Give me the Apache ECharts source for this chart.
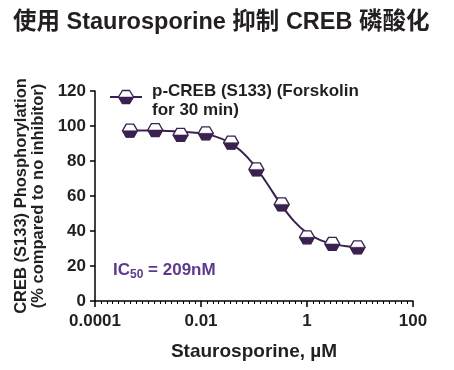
<!DOCTYPE html>
<html>
<head>
<meta charset="utf-8">
<script src="https://cdn.jsdelivr.net/npm/echarts@6/dist/echarts.min.js"></script>
<style>
html,body{margin:0;padding:0;background:#fff;}
#chart{width:454px;height:370px;}
</style>
</head>
<body>
<div id="chart"></div>
<script>
// ---- data ----
const concentrations = [0.000457, 0.00137, 0.00412, 0.0123, 0.037, 0.111, 0.333, 1, 3, 9]; // µM
const phospho = [97.3, 97.7, 94.9, 95.8, 90.5, 75.2, 55.2, 36.4, 32.6, 30.7];
// fitted curve (log10 µM, %)
const curveLogX = [-3.34, -3.0, -2.5, -2.0, -1.75, -1.5, -1.25, -1.0, -0.75, -0.5, -0.25, 0.0, 0.25, 0.5, 0.75, 0.957];
const curveY    = [97.4, 97.4, 97.0, 95.8, 94.2, 91.1, 85.9, 77.8, 67.0, 55.5, 45.8, 38.9, 34.8, 32.5, 31.3, 30.7];
const xTickValues = [-4, -2, 0, 2];
const xTickLabels = ['0.0001', '0.01', '1', '100'];
const yTicks = [0, 20, 40, 60, 80, 100, 120];

const titleText = '使用 Staurosporine 抑制 CREB 磷酸化';
const seriesName = 'p-CREB (S133) (Forskolin\nfor 30 min)';
const xName = 'Staurosporine, µM';
const yName = 'CREB (S133) Phosphorylation\n(% compared to no inhibitor)';

const PURPLE = '#3b2150';
const TEXT = '#231f20';
const FONT = 'Liberation Sans, Arial, "Noto Sans CJK SC", sans-serif';

const hexPath = 'path://M3.5,0 L10.5,0 L14,6 L10.5,12 L3.5,12 L0,6 Z';
const halfHexPath = 'path://M0,0 L14,0 L10.5,6 L3.5,6 Z';

const pts = concentrations.map((c, i) => [Math.log10(c), phospho[i]]);
const curve = curveLogX.map((x, i) => [x, curveY[i]]);

const chart = echarts.init(document.getElementById('chart'), null, {renderer: 'canvas'});
chart.setOption({
  backgroundColor: '#fff',
  animation: false,
  title: {
    text: titleText, left: 8, top: 6,
    textStyle: {fontFamily: FONT, fontSize: 23.5, fontWeight: 'bold', color: TEXT}
  },
  grid: {left: 95, right: 41, top: 91, bottom: 69, containLabel: false},
  xAxis: {
    type: 'value', min: -4, max: 2, interval: 2,
    name: xName, nameLocation: 'middle', nameGap: 41,
    nameTextStyle: {fontFamily: FONT, fontSize: 19, fontWeight: 'bold', color: TEXT},
    axisLine: {show: true, onZero: false, lineStyle: {color: '#000', width: 1.5}},
    axisTick: {show: true, length: 6, lineStyle: {color: '#000', width: 1.5}},
    minorTick: {show: true, splitNumber: 18, length: 3, lineStyle: {color: '#000', width: 1}},
    splitLine: {show: false},
    axisLabel: {
      margin: 12, fontFamily: FONT, fontSize: 17, fontWeight: 'bold', color: TEXT,
      formatter: v => { const i = xTickValues.indexOf(v); return i >= 0 ? xTickLabels[i] : ''; }
    }
  },
  yAxis: {
    type: 'value', min: yTicks[0], max: yTicks[yTicks.length - 1], interval: 20,
    name: yName, nameLocation: 'middle', nameGap: 40,
    nameTextStyle: {fontFamily: FONT, fontSize: 16.5, fontWeight: 'bold', color: TEXT, lineHeight: 17, align: 'center'},
    axisLine: {show: true, onZero: false, lineStyle: {color: '#000', width: 1.5}},
    axisTick: {show: true, length: 5, lineStyle: {color: '#000', width: 1.5}},
    splitLine: {show: false},
    axisLabel: {margin: 9, fontFamily: FONT, fontSize: 17, fontWeight: 'bold', color: TEXT}
  },
  series: [
    {
      name: 'fit', type: 'line', data: curve, smooth: 0.3, showSymbol: false, symbol: 'none',
      lineStyle: {color: PURPLE, width: 2}, z: 2, silent: true
    },
    {
      name: 'points', type: 'scatter', data: pts, symbol: hexPath, symbolSize: [15, 13],
      itemStyle: {color: '#fff', borderColor: PURPLE, borderWidth: 1.3, opacity: 1}, z: 3, silent: true
    },
    {
      name: 'pointsFill', type: 'scatter', data: pts, symbol: halfHexPath, symbolSize: [15, 6.5], symbolOffset: [0, 3.25],
      itemStyle: {color: PURPLE, borderColor: PURPLE, borderWidth: 0.5, opacity: 1}, z: 4, silent: true
    }
  ],
  graphic: [
    // legend
    {type: 'line', shape: {x1: 110, y1: 97, x2: 142, y2: 97}, style: {stroke: PURPLE, lineWidth: 2}, z: 10},
    {type: 'polygon', shape: {points: [[122.5, 90.5], [129.5, 90.5], [133.5, 97], [129.5, 103.5], [122.5, 103.5], [118.5, 97]]}, style: {fill: '#fff', stroke: PURPLE, lineWidth: 1.3}, z: 11},
    {type: 'polygon', shape: {points: [[118.5, 97], [133.5, 97], [129.5, 103.5], [122.5, 103.5]]}, style: {fill: PURPLE, stroke: PURPLE, lineWidth: 0.5}, z: 12},
    {type: 'text', left: 152, top: 82, z: 10,
      style: {text: seriesName, fontFamily: FONT, fontSize: 17, fontWeight: 'bold', fill: TEXT, lineHeight: 19}},
    // IC50 annotation
    {type: 'text', left: 113, top: 262, z: 10,
      style: {
        text: '{a|IC}{s|50}{a| = 209nM}',
        rich: {
          a: {fontFamily: FONT, fontSize: 17, fontWeight: 'bold', fill: '#5e3a8c', color: '#5e3a8c'},
          s: {fontFamily: FONT, fontSize: 12, fontWeight: 'bold', fill: '#5e3a8c', color: '#5e3a8c', padding: [9, 0, 0, 0]}
        }
      }}
  ]
});
</script>
</body>
</html>
